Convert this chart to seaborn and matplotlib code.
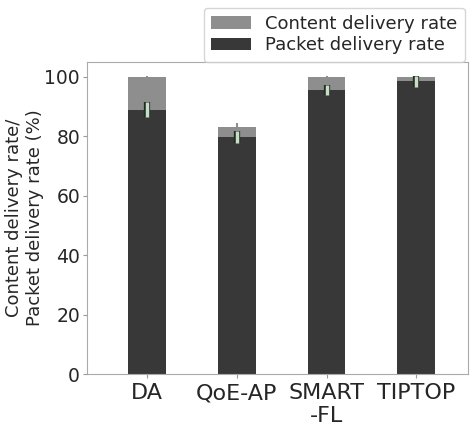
import numpy as np
import pandas as pd
import matplotlib
matplotlib.use('Agg')
import matplotlib.pyplot as plt
import matplotlib.patheffects as pe
import seaborn as sns

schemes = ['DA', 'QoE-AP', 'SMART\n-FL', 'TIPTOP']
content_rate = [100.0, 83.3, 99.8, 100.0]
content_err = [0.4, 1.3, 0.4, 0.3]
packet_rate = [88.9, 79.9, 95.6, 98.5]
packet_err = [2.5, 2.0, 1.7, 1.8]

df = pd.DataFrame({'scheme': schemes, 'content': content_rate, 'packet': packet_rate})

sns.set_style('white')
plt.rcParams['font.family'] = ['DejaVu Sans']

fig, ax = plt.subplots(figsize=(4.73, 4.25), dpi=100)
fig.subplots_adjust(left=0.184, right=0.99, bottom=0.12, top=0.854)

sns.barplot(data=df, x='scheme', y='content', color='#8e8e8e', saturation=1,
            width=0.42, linewidth=0, ax=ax, label='Content delivery rate')
sns.barplot(data=df, x='scheme', y='packet', color='#383838', saturation=1,
            width=0.42, linewidth=0, ax=ax, label='Packet delivery rate')

x = np.arange(len(schemes))
ax.errorbar(x, content_rate, yerr=content_err, fmt='none', ecolor='#8e8e8e',
            elinewidth=1.5, capsize=0, zorder=3)
eb = ax.errorbar(x, packet_rate, yerr=packet_err, fmt='none', ecolor='#c9dcc9',
                 elinewidth=2.5, capsize=0, zorder=4)
for coll in eb.lines[2]:
    coll.set_path_effects([pe.Stroke(linewidth=4.5, foreground='#1f2e1f'), pe.Normal()])

ax.set_xlim(-0.67, 3.58)
ax.set_ylim(0, 105)
ax.set_yticks([0, 20, 40, 60, 80, 100])
ax.set_xlabel('')
ax.set_ylabel('Content delivery rate/\nPacket delivery rate (%)', fontsize=13)
ax.yaxis.set_label_coords(-0.113, 0.5)
ax.tick_params(axis='x', labelsize=16, length=3, color='#999999', bottom=True)
ax.tick_params(axis='y', labelsize=13.5, length=3, pad=2, color='#999999', left=True)
for s in ax.spines.values():
    s.set_color('#aaaaaa')

ax.legend(loc='lower right', bbox_to_anchor=(1.0, 0.99), fontsize=13,
          handlelength=2.2, borderaxespad=0.2, labelspacing=0.2)

plt.savefig('out.png')
